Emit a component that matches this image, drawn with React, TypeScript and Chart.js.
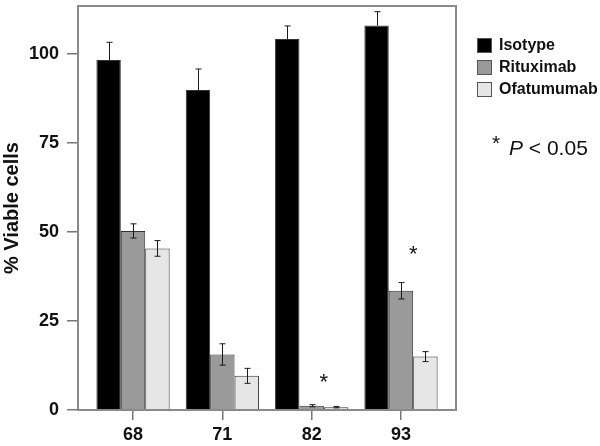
import React, { useEffect, useRef } from 'react';
import { Chart, registerables } from 'chart.js';

Chart.register(...registerables);

const categories = ['68', '71', '82', '93'];
const seriesNames = ['Isotype', 'Rituximab', 'Ofatumumab'];
const isotype = [98.3, 89.9, 104.2, 108.0];
const isotypeErr = [5.0, 5.9, 3.7, 3.9];
const rituximab = [50.3, 15.6, 1.2, 33.5];
const rituximabErr = [2.0, 3.0, 0.3, 2.3];
const ofatumumab = [45.4, 9.6, 0.8, 15.0];
const ofatumumabErr = [2.2, 2.1, 0.2, 1.4];
const yTicks = [0, 25, 50, 75, 100];
const sigGroups = [2, 3];
const sigValues = [9.4, 45.5];
const yTitle = '% Viable cells';
const noteStar = '*';
const noteP = 'P';
const noteRest = ' < 0.05';

const seriesValues = [isotype, rituximab, ofatumumab];
const seriesErrors = [isotypeErr, rituximabErr, ofatumumabErr];
const seriesColors = ['#000000', '#9a9a9a', '#e6e6e6'];
const FONT = '"Liberation Sans", Arial, Helvetica, sans-serif';
const FRAME = '#8a8a8a';

const framePlugin = {
  id: 'frame',
  afterDatasetsDraw(chart: any) {
    const { ctx, chartArea: a } = chart;
    ctx.save();
    ctx.strokeStyle = FRAME;
    ctx.lineWidth = 2;
    ctx.strokeRect(a.left, a.top, a.right - a.left, a.bottom - a.top);
    ctx.restore();
  },
};

const errorBarPlugin = {
  id: 'errorBars',
  afterDatasetsDraw(chart: any) {
    const { ctx } = chart;
    const yScale = chart.scales.y;
    ctx.save();
    ctx.strokeStyle = '#1a1a1a';
    ctx.lineWidth = 1;
    seriesValues.forEach((vals, di) => {
      const meta = chart.getDatasetMeta(di);
      const darkBar = seriesColors[di] === '#000000';
      meta.data.forEach((el: any, j: number) => {
        const v = vals[j];
        const e = seriesErrors[di][j];
        const x = Math.round(el.x) + 0.5;
        const yT = yScale.getPixelForValue(v + e);
        const yB = darkBar ? yScale.getPixelForValue(v) : yScale.getPixelForValue(v - e);
        ctx.beginPath();
        ctx.moveTo(x, yT);
        ctx.lineTo(x, yB);
        ctx.moveTo(x - 3, yT);
        ctx.lineTo(x + 3, yT);
        if (!darkBar) {
          ctx.moveTo(x - 3, yB);
          ctx.lineTo(x + 3, yB);
        }
        ctx.stroke();
      });
    });
    ctx.fillStyle = '#111';
    ctx.font = `22px ${FONT}`;
    ctx.textAlign = 'center';
    ctx.textBaseline = 'alphabetic';
    const ritMeta = chart.getDatasetMeta(1);
    sigGroups.forEach((g, k) => {
      const el: any = ritMeta.data[g];
      const x = el.x + el.width / 2;
      const y = yScale.getPixelForValue(sigValues[k]);
      ctx.fillText('*', x, y + 12.5);
    });
    ctx.restore();
  },
};

const sideLegendPlugin = {
  id: 'sideLegend',
  afterDraw(chart: any) {
    const { ctx, chartArea: a } = chart;
    const left = a.right + 21;
    ctx.save();
    chart.data.datasets.forEach((ds: any, i: number) => {
      const top = 38 + i * 22;
      ctx.fillStyle = ds.backgroundColor;
      ctx.fillRect(left, top, 15, 15);
      ctx.strokeStyle = '#555';
      ctx.lineWidth = 1;
      ctx.strokeRect(left + 0.5, top + 0.5, 14, 14);
      ctx.fillStyle = '#111';
      ctx.font = `bold 16px ${FONT}`;
      ctx.textAlign = 'left';
      ctx.textBaseline = 'middle';
      ctx.fillText(ds.label, left + 22, top + 8);
    });
    ctx.fillStyle = '#111';
    ctx.textBaseline = 'alphabetic';
    ctx.textAlign = 'left';
    ctx.font = `21px ${FONT}`;
    ctx.fillText(noteStar, left + 15, 150);
    ctx.font = `italic 21px ${FONT}`;
    const px = left + 32;
    ctx.fillText(noteP, px, 155);
    const pw = ctx.measureText(noteP).width;
    ctx.font = `21px ${FONT}`;
    ctx.fillText(noteRest, px + pw, 155);
    ctx.restore();
  },
};

export default function App() {
  const ref = useRef<HTMLCanvasElement | null>(null);
  useEffect(() => {
    if (!ref.current) return;
    const chart = new Chart(ref.current, {
      type: 'bar',
      data: {
        datasets: seriesNames.map((name, i) => ({
          label: name,
          data: seriesValues[i].map((v, j) => ({ x: j, y: v })),
          backgroundColor: seriesColors[i],
          borderColor: '#333333',
          borderWidth: 1,
        })),
      },
      options: {
        responsive: false,
        animation: false,
        layout: { padding: { left: 0, right: 144, top: 6, bottom: 0 } },
        datasets: { bar: { categoryPercentage: 0.82, barPercentage: 1 } },
        plugins: { legend: { display: false }, tooltip: { enabled: false } },
        scales: {
          x: {
            type: 'linear',
            min: -0.616,
            max: 3.616,
            offset: false,
            afterBuildTicks: (s: any) => {
              s.ticks = categories.map((_, i) => ({ value: i }));
            },
            afterFit: (s: any) => {
              s.height = 36;
              s.paddingLeft = 0;
              s.paddingRight = 0;
            },
            ticks: {
              autoSkip: false,
              padding: 4,
              color: '#111',
              font: { family: FONT, size: 18, weight: 'bold' },
              callback: (v: any) => categories[v] ?? '',
            },
            grid: { offset: false, drawOnChartArea: false, tickLength: 10, color: '#777', lineWidth: 1.5 },
            border: { display: false },
          },
          y: {
            type: 'linear',
            min: 0,
            max: 113.5,
            afterBuildTicks: (s: any) => {
              s.ticks = yTicks.map((v) => ({ value: v }));
            },
            afterFit: (s: any) => {
              s.width = 78;
              s.paddingTop = 0;
              s.paddingBottom = 0;
            },
            ticks: {
              padding: 8,
              color: '#111',
              font: { family: FONT, size: 18, weight: 'bold' },
            },
            grid: { drawOnChartArea: false, tickLength: 11, color: '#777', lineWidth: 1.5 },
            border: { display: false },
            title: {
              display: true,
              text: yTitle,
              color: '#111',
              padding: { top: 0, bottom: 0 },
              font: { family: FONT, size: 20, weight: 'bold' },
            },
          },
        },
      } as any,
      plugins: [framePlugin, errorBarPlugin, sideLegendPlugin],
    });
    return () => chart.destroy();
  }, []);
  return (
    <div style={{ position: 'fixed', left: 0, top: 0, width: 600, height: 446, background: '#fff' }}>
      <canvas ref={ref} width={600} height={446} style={{ display: 'block' }} />
    </div>
  );
}
